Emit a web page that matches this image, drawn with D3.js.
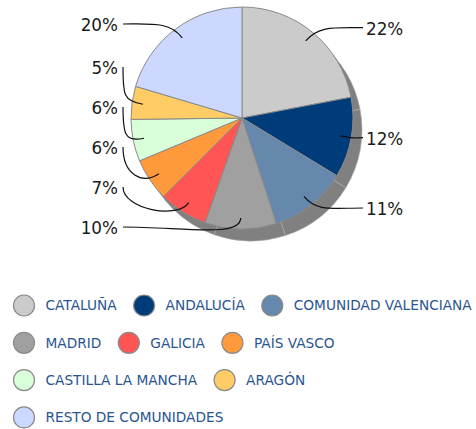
<!DOCTYPE html>
<html>
<head>
<meta charset="utf-8">
<script src="https://d3js.org/d3.v7.min.js"></script>
<style>
  body { margin: 0; background: #fff; }
  svg { display: block; font-family: "DejaVu Sans", Verdana, sans-serif; }
</style>
</head>
<body>
<svg id="svgMain" width="476" height="429"></svg>
<script>
// data
const regions = ["CATALUÑA", "ANDALUCÍA", "COMUNIDAD VALENCIANA", "MADRID", "GALICIA",
    "PAÍS VASCO", "CASTILLA LA MANCHA", "ARAGÓN", "RESTO DE COMUNIDADES"];
const shares = [22.0, 11.7, 11.3, 10.4, 7.1, 6.2, 6.1, 4.8, 20.4];
const colors = ["#cbcbcb", "#003b7a", "#6688ad", "#a0a0a0", "#ff5555",
    "#ff9a3c", "#d9ffd9", "#ffcc66", "#ccd8ff"];

let svgMain = d3.select("#svgMain");

// pie geometry
const cx = 242, cy = 118, radius = 111;
const total = d3.sum(shares);
const pctFormat = d3.format(".0%");

const pie = d3.pie().sort(null).value(d => d);
const arcs = pie(shares);

const arc = d3.arc().innerRadius(0).outerRadius(radius);
const anchorArc = d3.arc().innerRadius(100).outerRadius(100);

const plot = svgMain.append("g")
    .attr("transform", "translate(" + cx + "," + cy + ")");

// shadow under the pie
plot.append("g")
    .attr("transform", "translate(9,12)")
    .selectAll("path")
    .data(arcs)
    .enter().append("path")
    .attr("d", arc)
    .style("fill", "#808080")
    .style("stroke", "#a9a9a9")
    .style("stroke-width", 0.6);

// slices
plot.selectAll("path.slice")
    .data(arcs)
    .enter().append("path")
    .attr("class", "slice")
    .attr("d", arc)
    .style("fill", (d, i) => colors[i])
    .style("stroke", "#8a8a8a")
    .style("stroke-width", 1);

// label positions
let labels = arcs.map((d, i) => {
    let mid = (d.startAngle + d.endAngle) / 2;
    let a = anchorArc.centroid(d);
    let want = -116 * Math.cos(mid);
    return {
        i: i, mid: mid, ax: a[0], ay: a[1],
        side: Math.sin(mid) >= 0 ? 1 : -1,
        want: want, y: want
    };
});

//left side: push up from the bottom
let left = labels.filter(d => d.side < 0).sort((a, b) => a.y - b.y);
left[left.length - 1].y = Math.min(left[left.length - 1].y, 110);
for (let k = left.length - 2; k >= 0; k--) {
    left[k].y = Math.min(left[k].y, left[k + 1].y - 40);
}
let right = labels.filter(d => d.side > 0).sort((a, b) => a.y - b.y);
for (let k = 1; k < right.length; k++) {
    right[k].y = Math.max(right[k].y, right[k - 1].y + 40);
}

// connector lines
plot.selectAll("path.connector")
    .data(labels)
    .enter().append("path")
    .attr("class", "connector")
    .attr("d", function (d) {
        let x0 = d.side * (d.side > 0 ? 121 : 119);
        let y0 = d.y - 1;
        let shift = d.want - d.y;
        let c1;
        if (Math.abs(shift) > 10) {
            c1 = [x0, y0 + shift * 0.8];
        } else {
            c1 = [x0 + (d.ax - x0) * 0.5, y0];
        }
        let c2 = [d.ax + 20 * Math.sin(d.mid), d.ay - 20 * Math.cos(d.mid)];
        let p = d3.path();
        p.moveTo(x0, y0);
        p.bezierCurveTo(c1[0], c1[1], c2[0], c2[1], d.ax, d.ay);
        return p.toString();
    })
    .style("fill", "none")
    .style("stroke", "#111")
    .style("stroke-width", 1.2);

// percentage labels
plot.selectAll("text.pct")
    .data(labels)
    .enter().append("text")
    .attr("class", "pct")
    .attr("x", d => d.side * 124)
    .attr("y", d => d.y)
    .attr("dy", "0.36em")
    .attr("text-anchor", d => d.side > 0 ? "start" : "end")
    .attr("font-size", "16.8px")
    .style("fill", "#1a1a1a")
    .text(d => pctFormat(shares[d.i] / total));

// legend, flowing items
const legend = svgMain.append("g").attr("class", "legend");
const rowStart = 305.5, rowStep = 37.3, maxX = 474;
let lx = 13, row = 0;
regions.forEach(function (name, i) {
    let item = legend.append("g");
    let txt = item.append("text")
        .attr("x", 32.5)
        .attr("dy", "0.36em")
        .attr("font-size", "13.7px")
        .style("fill", "#2a5490")
        .text(name);
    let w = txt.node().getComputedTextLength();
    if (lx + 32 + w > maxX && lx > 13) {
        lx = 13;
        row++;
    }
    item.append("circle")
        .attr("cx", 11)
        .attr("cy", 0)
        .attr("r", 10.5)
        .style("fill", colors[i])
        .style("stroke", "#8a8a8a")
        .style("stroke-width", 1.2);
    item.attr("transform", "translate(" + lx + "," + (rowStart + row * rowStep) + ")");
    lx += 32.5 + w + 16.5;
});
</script>
</body>
</html>
